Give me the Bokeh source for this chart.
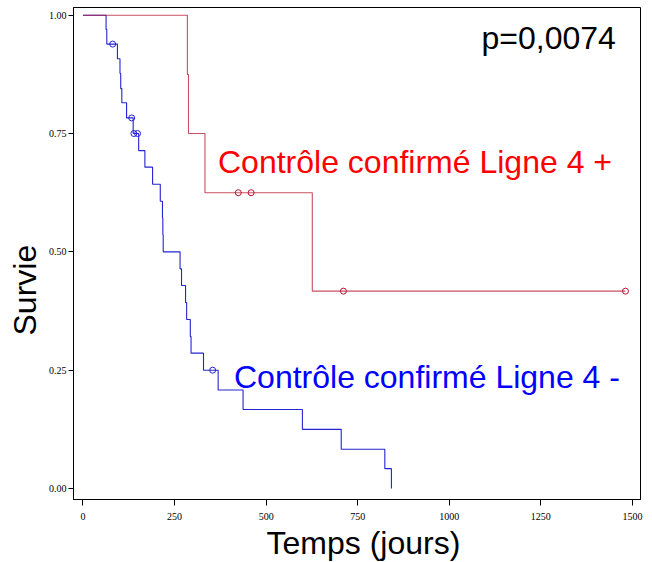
from bokeh.plotting import figure
from bokeh.models import Range1d, FixedTicker, NumeralTickFormatter, Label, Title
from bokeh.embed import file_html
from bokeh.resources import INLINE

# ---- data ----
# "Contrôle confirmé Ligne 4 -" (blue): step times and survival after each step
blue_times = [0, 63, 65, 94, 101, 103, 106, 119, 137, 152, 169, 190, 211, 217, 218, 219,
              265, 269, 280, 283, 293, 295, 329, 369, 437, 599, 705, 824, 842]
blue_surv = [1.0, 0.970, 0.939, 0.908, 0.877, 0.845, 0.815, 0.783, 0.750, 0.714, 0.679, 0.643,
             0.607, 0.571, 0.536, 0.500, 0.464, 0.429, 0.393, 0.357, 0.321, 0.286, 0.250,
             0.208, 0.167, 0.125, 0.083, 0.042, 0.0]
blue_cens_times = [81, 133, 139, 149, 354]
blue_cens_surv = [0.939, 0.783, 0.750, 0.750, 0.250]

# "Contrôle confirmé Ligne 4 +" (red)
red_times = [0, 285, 288, 333, 626]
red_surv = [1.0, 0.875, 0.750, 0.625, 0.417]
red_cens_times = [424, 459, 711, 1481]
red_cens_surv = [0.625, 0.625, 0.417, 0.417]

x_ticks = [0, 250, 500, 750, 1000, 1250, 1500]
y_ticks = [0.0, 0.25, 0.5, 0.75, 1.0]

label_plus = "Contrôle confirmé Ligne 4 +"
label_minus = "Contrôle confirmé Ligne 4 -"
p_text = "p=0,0074"
x_title = "Temps (jours)"
y_title = "Survie"

BLUE = "#2424D2"
RED = "#B5142F"

p = figure(width=652, height=562, output_backend="svg", toolbar_location=None,
           x_range=Range1d(-25.9, 1522.0), y_range=Range1d(-0.0232, 1.0163),
           min_border_left=73, min_border_right=12, min_border_top=7, min_border_bottom=63)
p.background_fill_color = "white"
p.border_fill_color = "white"
p.grid.visible = False
p.outline_line_color = "black"
p.outline_line_width = 1

for ax in (p.xaxis[0], p.yaxis[0]):
    ax.axis_line_color = "black"
    ax.major_tick_line_color = "black"
    ax.minor_tick_line_color = None
    ax.major_tick_in = 0
    ax.major_label_text_font = "Liberation Serif"
    ax.major_label_text_font_size = "10px"
    ax.major_label_text_color = "black"

p.xaxis.ticker = FixedTicker(ticks=x_ticks)
p.xaxis.major_tick_out = 6
p.xaxis.major_label_standoff = 7
p.yaxis.ticker = FixedTicker(ticks=y_ticks)
p.yaxis.formatter = NumeralTickFormatter(format="0.00")
p.yaxis.major_tick_out = 5
p.yaxis.major_label_standoff = 2

# blue curve
p.step(x=blue_times, y=blue_surv, mode="after", line_color=BLUE, line_width=1.1)
p.scatter(x=blue_cens_times, y=blue_cens_surv, marker="circle", size=6,
          fill_color=None, line_color=BLUE, line_width=1)

# red curve (extends to last censored time)
rx = red_times + [red_cens_times[-1]]
ry = red_surv + [red_surv[-1]]
p.step(x=rx, y=ry, mode="after", line_color=RED, line_width=1.1, line_alpha=0.75)
p.scatter(x=red_cens_times, y=red_cens_surv, marker="circle", size=6,
          fill_color=None, line_color=RED, line_width=1)

p.add_layout(Label(x=368.6, y=0.689, text=label_plus, text_color="#FF0000",
                   text_font="Liberation Sans", text_font_size="32px",
                   text_baseline="alphabetic", text_align="left"))
p.add_layout(Label(x=412.2, y=0.236, text=label_minus, text_color="#0000FF",
                   text_font="Liberation Sans", text_font_size="32px",
                   text_baseline="alphabetic", text_align="left"))
p.add_layout(Label(x=1088, y=0.951, text=p_text, text_color="black",
                   text_font="Liberation Sans", text_font_size="32px",
                   text_baseline="alphabetic", text_align="left"))

# axis titles as side titles (positioned along the side with an offset)
p.add_layout(Title(text=x_title, align="left", offset=193, standoff=0,
                   text_font="Liberation Sans", text_font_size="32px",
                   text_font_style="normal", text_color="black"), "below")
p.add_layout(Title(text=y_title, align="left", offset=164, standoff=6,
                   text_font="Liberation Sans", text_font_size="32px",
                   text_font_style="normal", text_color="black"), "left")

open("out.html", "w").write(file_html(p, INLINE))
